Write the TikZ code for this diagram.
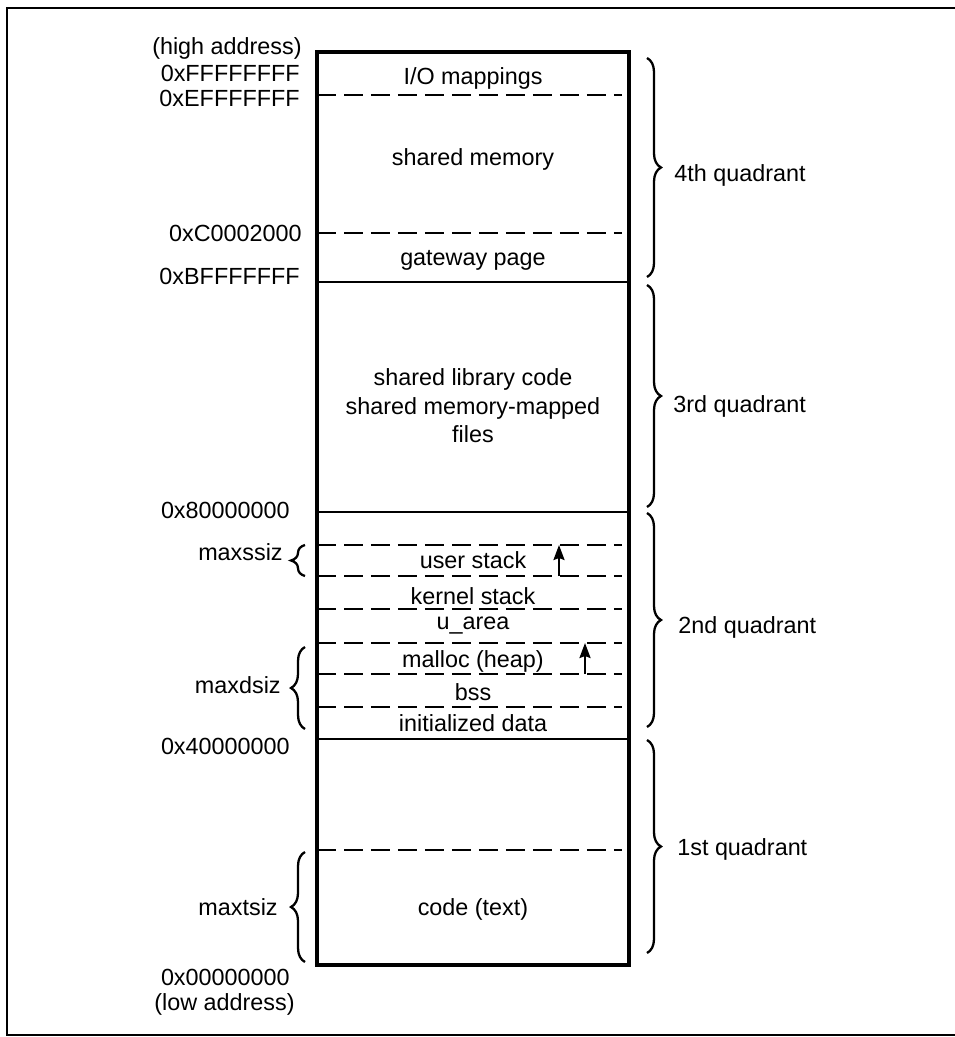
\documentclass[tikz,border=0pt]{standalone}
\usepackage{fontspec}
\setmainfont{Liberation Sans}
\usetikzlibrary{arrows.meta, decorations.pathreplacing}

\begin{document}
\begin{tikzpicture}[
    x=0.02cm, y=-0.02cm,
    every node/.style={font=\fontsize{13.3}{15.5}\selectfont, inner sep=0pt},
    addr/.style={anchor=base east},
    region/.style={anchor=base},
    quad/.style={anchor=base west},
    memline/.style={line width=1.2pt},
    gap/.style={line width=1.4pt, dash pattern=on 0.38cm off 0.16cm},
    growarrow/.style={line width=1.3pt, -{Stealth[length=0.3cm, width=0.22cm, inset=0.04cm]}},
    curly/.style={line width=1.3pt, decorate, decoration={brace, amplitude=0.28cm}}
]
\useasboundingbox (0,0) rectangle (955,1037);
% outer frame
\draw[line width=1.5pt] (955,8) -- (7,8) -- (7,1035) -- (955,1035);

% memory box
\draw[line width=2pt] (317,52) rectangle (629,965);
\draw[memline] (317,282) -- (629,282);
\draw[memline] (317,512) -- (629,512);
\draw[memline] (317,739) -- (629,739);
\draw[gap] (317,95) -- (622,95);
\draw[gap] (317,233) -- (622,233);
\draw[gap] (317,545) -- (622,545);
\draw[gap] (317,576) -- (622,576);
\draw[gap] (317,609) -- (622,609);
\draw[gap] (317,643) -- (622,643);
\draw[gap] (317,674) -- (622,674);
\draw[gap] (317,707) -- (622,707);
\draw[gap] (317,850) -- (622,850);

% regions
\node[region] (io) at (473,85) {I/O mappings};
\node[region] (shm) at (473,166) {shared memory};
\node[region] (gate) at (473,265) {gateway page};
\node[region] (shlib) at (473,385) {shared library code};
\node[region, align=center] (mmap) at (473,442) {shared memory-mapped\\files};
\node[region] (ustack) at (473,568) {user stack};
\node[region] (kstack) at (473,604) {kernel stack};
\node[region] (uarea) at (473,629) {u\_area};
\node[region] (heap) at (473,667) {malloc (heap)};
\node[region] (bss) at (473,700) {bss};
\node[region] (idata) at (473,731) {initialized data};
\node[region] (code) at (473,915) {code (text)};

% growth arrows
\coordinate (ustack0) at (559,576);
\coordinate (ustack1) at (559,545);
\coordinate (heap0) at (585,674);
\coordinate (heap1) at (585,643);
\draw[growarrow] (ustack0) -- (ustack1);
\draw[growarrow] (heap0) -- (heap1);

% addresses
\node[addr] (hi) at (302,55) {(high address)};
\node[addr] (aF) at (300,82) {0xFFFFFFFF};
\node[addr] (aE) at (300,107) {0xEFFFFFFF};
\node[addr] (aC) at (302,241) {0xC0002000};
\node[addr] (aB) at (300,284) {0xBFFFFFFF};
\node[addr] (a8) at (290,518) {0x80000000};
\node[addr] (a4) at (290,754) {0x40000000};
\node[addr] (a0) at (290,985) {0x00000000};
\node[addr] (lo) at (295,1010) {(low address)};

% size limits
\draw[curly] (305,576) -- (305,545);
\draw[curly] (305,729) -- (305,647);
\draw[curly] (305,962) -- (305,852);
\node[addr] (ssiz) at (283,560) {maxssiz};
\node[addr] (dsiz) at (281,693) {maxdsiz};
\node[addr] (tsiz) at (278,915) {maxtsiz};

% quadrants
\draw[curly] (647,58) -- (647,277);
\draw[curly] (647,285) -- (647,507);
\draw[curly] (647,513) -- (647,727);
\draw[curly] (647,740) -- (647,953);
\node[quad] (q4) at (674,182) {4th quadrant};
\node[quad] (q3) at (673,412) {3rd quadrant};
\node[quad] (q2) at (678,633) {2nd quadrant};
\node[quad] (q1) at (677,855) {1st quadrant};
\end{tikzpicture}
\end{document}
